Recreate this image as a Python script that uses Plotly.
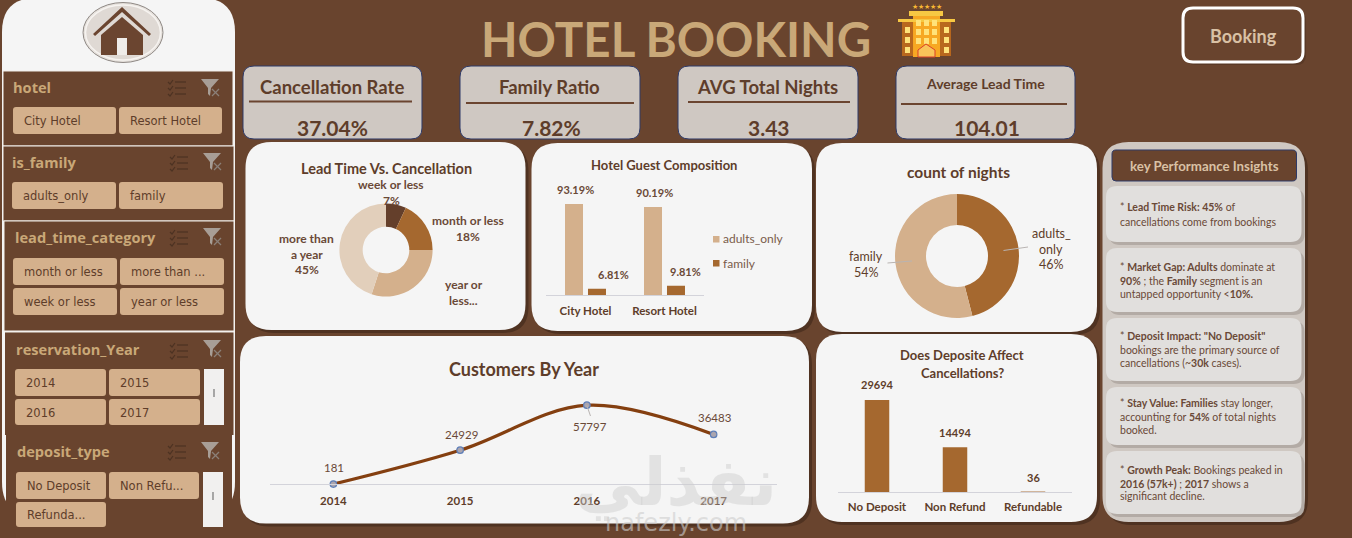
import plotly.graph_objects as go

W = 1352
H = 538

BG = "#69442E"
CARD = "#F5F5F5"
SHADOW = "#4F3221"
KPI = "#CFC8C2"
NAVY = "#2E3A68"
TAN = "#D4B08C"
TITLE_TAN = "#C9A878"
BROWN = "#A5682F"
DARK = "#5E3D2A"
LABEL = "#6A4937"
FONT = "Lato"
SLICER_FONT = "DejaVu Sans"
HEAD_FONT = "Open Sans"

# chart data
lead_labels = ["week or less", "month or less", "year or less", "more than a year"]
lead_values = [7, 18, 30, 45]
lead_colors = ["#643F2B", BROWN, TAN, "#E2CFBB"]

hotel_types = ["City Hotel", "Resort Hotel"]
adults_only = [93.19, 90.19]
family_share = [6.81, 9.81]

night_labels = ["adults_only", "family"]
night_values = [46, 54]

years = [2014, 2015, 2016, 2017]
customers = [181, 24929, 57797, 36483]

deposit_types = ["No Deposit", "Non Refund", "Refundable"]
deposit_counts = [29694, 14494, 36]

kpi_names = ["Cancellation Rate", "Family Ratio", "AVG Total Nights", "Average Lead Time"]
kpi_values = ["37.04%", "7.82%", "3.43", "104.01"]

insights = [
    ["* <b>Lead Time Risk: 45%</b> of", "cancellations come from bookings"],
    ["* <b>Market Gap: Adults</b> dominate at", "<b>90%</b> ; the <b>Family</b> segment is an", "untapped opportunity &lt;<b>10%.</b>"],
    ["* <b>Deposit Impact: \"No Deposit\"</b>", "bookings are the primary source of", "cancellations (~<b>30k</b> cases)."],
    ["* <b>Stay Value: Families</b> stay longer,", "accounting for <b>54%</b> of total nights", "booked."],
    ["* <b>Growth Peak:</b> Bookings peaked in", "<b>2016 (57k+)</b> ; <b>2017</b> shows a", "significant decline."],
]


def px(x):
    return x / W


def py(y):
    return 1 - y / H


def pt(x, y):
    return f"{px(x):.5f},{py(y):.5f}"


def rr_path(x0, y0, x1, y1, r):
    return (f"M {pt(x0 + r, y0)} L {pt(x1 - r, y0)} Q {pt(x1, y0)} {pt(x1, y0 + r)} "
            f"L {pt(x1, y1 - r)} Q {pt(x1, y1)} {pt(x1 - r, y1)} L {pt(x0 + r, y1)} "
            f"Q {pt(x0, y1)} {pt(x0, y1 - r)} L {pt(x0, y0 + r)} Q {pt(x0, y0)} {pt(x0 + r, y0)} Z")


shapes = []
notes = []


def box(x0, y0, x1, y1, r=0, fill=CARD, line=None, lw=1, shadow=None, layer="below"):
    if shadow:
        shapes.append(dict(type="path", xref="paper", yref="paper", layer=layer,
                           path=rr_path(x0 + 3, y0 + 3, x1 + 3, y1 + 3, r),
                           fillcolor=shadow, line=dict(width=0)))
    shapes.append(dict(type="path", xref="paper", yref="paper", layer=layer,
                       path=rr_path(x0, y0, x1, y1, r), fillcolor=fill,
                       line=dict(color=line or fill, width=lw if line else 0)))


def poly(points, fill=None, color=None, lw=1, layer="below", closed=True):
    p = "M " + " L ".join(pt(x, y) for x, y in points) + (" Z" if closed else "")
    shapes.append(dict(type="path", xref="paper", yref="paper", layer=layer, path=p,
                       fillcolor=fill if fill else "rgba(0,0,0,0)",
                       line=dict(color=color or "rgba(0,0,0,0)", width=lw if color else 0)))


def txt(x, y, s, size=12, color=DARK, bold=False, anchor="center", family=FONT):
    notes.append(dict(xref="paper", yref="paper", x=px(x), y=py(y), text=f"<b>{s}</b>" if bold else s,
                      showarrow=False, xanchor=anchor, yanchor="middle", align=anchor,
                      xshift=-2 if anchor == "left" else 0,
                      font=dict(size=size, color=color, family=family)))


def slicer_icons(x1, y1, x2, y2):
    # multi select icon
    for i in range(3):
        yy = y1 + 2 + i * 6
        poly([(x1, yy), (x1 + 2, yy + 2), (x1 + 5, yy - 2)], color="#4C3222", lw=1.2, closed=False)
        poly([(x1 + 7, yy), (x1 + 18, yy)], color="#4C3222", lw=1.2, closed=False)
    # clear filter icon
    poly([(x2, y2), (x2 + 18, y2), (x2 + 10, y2 + 9), (x2 + 9, y2 + 17), (x2 + 7, y2 + 15), (x2 + 7, y2 + 9)], fill="#A89E96")
    poly([(x2 + 11, y2 + 10), (x2 + 18, y2 + 17)], color="#8B8078", lw=1.2, closed=False)
    poly([(x2 + 18, y2 + 10), (x2 + 11, y2 + 17)], color="#8B8078", lw=1.2, closed=False)


def button(x0, y0, x1, y1, s):
    box(x0, y0, x1, y1, 3, fill=TAN)
    txt(x0 + 10.5, (y0 + y1) / 2 + 0.5, s, size=11.5, color=DARK, anchor="left", family=SLICER_FONT)


def scrollbar(x0, y0, x1, y1, hy0, hy1):
    box(x0, y0, x1, y1, 0, fill="#F1F0EF")
    poly([((x0 + x1) / 2, hy0), ((x0 + x1) / 2, hy1)], color="#8E8E8E", lw=1.5, closed=False)


# sidebar
box(2, -2, 235, 516, 34, fill=CARD)
box(28, 537, 208, 550, 3, fill=CARD)

# home logo
shapes.append(dict(type="circle", xref="paper", yref="paper", layer="below", x0=px(83), x1=px(163), y0=py(2.5), y1=py(62.5),
                   fillcolor="#E6E1DC", line=dict(color="#8F8985", width=1)))
shapes.append(dict(type="circle", xref="paper", yref="paper", layer="below", x0=px(85.5), x1=px(160.5), y0=py(5), y1=py(60),
                   fillcolor="#DFD9D4", line=dict(color="#F6F3F0", width=1.5)))
poly([(93, 34), (122, 7), (151, 34), (149, 36), (122, 12), (95, 36)], fill="#6B4530")
poly([(122, 17), (143, 35), (143, 55), (101, 55), (101, 35)], fill="#6B4530")
box(117, 38, 127, 55, 0, fill="#EFECE9")

# slicer panels
box(3, 71, 233, 146, 0, fill=BG, line="#F3F0EC", lw=1)
box(3, 146, 234, 221, 0, fill=BG, line="#F3F0EC", lw=1)
box(4, 221, 234, 331, 0, fill=BG, line="#F3F0EC", lw=1)
box(5, 332, 234, 435, 0, fill=BG)
poly([(5, 332), (234, 332)], color="#F3F0EC", lw=1, closed=False)
poly([(234, 332), (234, 435)], color="#F3F0EC", lw=1, closed=False)
box(6, 435, 232, 540, 0, fill=BG)

txt(13, 87, "hotel", 14.6, TITLE_TAN, True, "left", HEAD_FONT)
slicer_icons(168, 80, 201, 79)
button(13, 107, 116, 134, "City Hotel")
button(119, 107, 222, 134, "Resort Hotel")

txt(12, 162, "is_family", 14.6, TITLE_TAN, True, "left", HEAD_FONT)
slicer_icons(170, 155, 203, 153)
button(12, 182, 116, 209, "adults_only")
button(119, 182, 223, 209, "family")

txt(14.5, 237, "lead_time_category", 14.6, TITLE_TAN, True, "left", HEAD_FONT)
slicer_icons(170, 230, 203, 228)
button(13, 258, 117, 285, "month or less")
button(120, 258, 224, 285, "more than ...")
button(13, 288, 117, 315, "week or less")
button(120, 288, 224, 315, "year or less")

txt(15.5, 349, "reservation_Year", 14.6, TITLE_TAN, True, "left", HEAD_FONT)
slicer_icons(170, 343, 203, 340)
button(15, 369, 106, 396, "2014")
button(109, 369, 200, 396, "2015")
button(15, 399, 106, 425, "2016")
button(109, 399, 200, 425, "2017")
scrollbar(204, 369, 224, 425, 389, 397)

txt(16.5, 451, "deposit_type", 14.6, TITLE_TAN, True, "left", HEAD_FONT)
slicer_icons(168, 444, 201, 442)
button(16, 472, 106, 499, "No Deposit")
button(109, 472, 199, 499, "Non Refu...")
button(16, 502, 106, 527, "Refunda...")
scrollbar(203, 472, 223, 527, 492, 500)

# header
txt(676, 38, "HOTEL BOOKING", 47.5, TITLE_TAN, True)
box(1183, 8, 1303, 62, 10, fill=BG, line="#FFFFFF", lw=3, shadow="#5A3A27")
txt(1243, 36, "Booking", 18, "#D9C1A5", True)

# hotel picture
box(909, 11, 943, 16, 0, fill="#F7C843")
box(913, 16, 940, 57, 0, fill="#F7A823")
box(902, 22, 913, 56, 0, fill="#B8681E")
box(940, 22, 951, 56, 0, fill="#B8681E")
box(898, 19, 955, 22, 0, fill="#F7C843")
for wx in [905, 944]:
    for wy in [27, 37, 47]:
        box(wx, wy, wx + 5, wy + 6, 0, fill="#FFE27A")
for wx in [916, 924, 932]:
    for wy in [20, 29, 38]:
        box(wx, wy, wx + 5, wy + 6, 0, fill="#FFE27A")
poly([(918, 57), (918, 50), (926, 44), (935, 50), (935, 57)], fill="#F9C45A", color="#D9402A", lw=1)
txt(926.5, 6, "★★★★★", 7, "#F7B733")

# KPI cards
kpi_x = [(243, 422), (460, 640), (678, 858), (896, 1075)]
kpi_center = [332, 549.5, 767.5, 985]
kpi_line = [(249, 412, 101.5), (466, 634, 103), (688, 850, 102), (901, 1067, 104)]
kpi_title_y = [87, 87, 87, 83.5]
kpi_size = [18.5, 18.5, 18.5, 14]
for i, name in enumerate(kpi_names):
    box(kpi_x[i][0], 66, kpi_x[i][1], 139, 11, fill=KPI, line=NAVY, lw=1)
    poly([(kpi_line[i][0], kpi_line[i][2]), (kpi_line[i][1], kpi_line[i][2])], color="#6B4530", lw=2, closed=False)
    txt(kpi_center[i], kpi_title_y[i], name, kpi_size[i], DARK, True)
    txt(kpi_center[i] + (1.5 if i else 0), 127, kpi_values[i], 21, DARK, True)

# chart cards
box(245.5, 142, 525.5, 330, 26, shadow=SHADOW)
box(531.5, 143, 812, 331, 26, shadow=SHADOW)
box(816, 143, 1097, 332, 26, shadow=SHADOW)
box(240, 336, 809, 523.5, 26, shadow=SHADOW)
box(816, 334, 1097, 522, 26, shadow=SHADOW)

# insights panel
box(1102.5, 142, 1305, 522, 26, fill=KPI, shadow=SHADOW)
box(1112, 150, 1296.5, 181, 4, fill=BG, line=NAVY, lw=1)
txt(1204, 165.5, "key Performance Insights", 13.3, "#D9C1A5", True)
insight_boxes = [(186, 242), (248, 312), (318, 381), (387, 445), (451, 514)]
insight_lines = [[207, 221.5], [266.5, 280.5, 293.5], [335.5, 349.5, 362.5], [402.5, 416.5, 429.5], [469.5, 483.5, 496.5]]
for (y0, y1), lines, ys in zip(insight_boxes, insights, insight_lines):
    box(1106, y0, 1301.5, y1, 11, fill="#E1DFDD", shadow="#B3ABA5")
    for s, yy in zip(lines, ys):
        txt(1119.5, yy, s, 10.5, LABEL, False, "left")

fig = go.Figure()

# lead time donut
fig.add_trace(go.Pie(labels=lead_labels, values=lead_values, hole=0.5, sort=False, direction="clockwise",
                     marker=dict(colors=lead_colors, line=dict(width=0)), textinfo="none", showlegend=False,
                     domain=dict(x=[px(386 - 46.6), px(386 + 46.6)], y=[py(250 + 46.6), py(250 - 46.6)])))
txt(386, 168, "Lead Time Vs. Cancellation", 14.5, DARK, True)
txt(391, 184, "week or less", 12, LABEL, True)
txt(391.5, 200, f"{lead_values[0]}%", 12, LABEL, True)
txt(468, 220, "month or less", 12, LABEL, True)
txt(468, 236, f"{lead_values[1]}%", 12, LABEL, True)
txt(306.5, 238, "more than", 12, LABEL, True)
txt(306.5, 254, "a year", 12, LABEL, True)
txt(306.5, 269, f"{lead_values[3]}%", 12, LABEL, True)
txt(463.5, 284, "year or", 12, LABEL, True)
txt(463.5, 300, "less...", 12, LABEL, True)

# guest composition bars
fig.add_trace(go.Bar(x=hotel_types, y=adults_only, name="adults_only", marker=dict(color=TAN, line=dict(width=0)),
                     xaxis="x2", yaxis="y2", showlegend=False))
fig.add_trace(go.Bar(x=hotel_types, y=family_share, name="family", marker=dict(color=BROWN, line=dict(width=0)),
                     xaxis="x2", yaxis="y2", showlegend=False))
txt(664, 164.5, "Hotel Guest Composition", 13, DARK, True)
guest_xshift = [[-10, 28], [-10, 21]]
for i, name in enumerate(hotel_types):
    for j, series in enumerate([adults_only, family_share]):
        notes.append(dict(xref="x2", yref="y2", x=name, y=series[i], text=f"<b>{series[i]:.2f}%</b>", showarrow=False,
                          xshift=guest_xshift[i][j], yshift=14, xanchor="center", yanchor="middle",
                          font=dict(size=11, color=LABEL, family=FONT)))
box(713, 236, 719.5, 242.5, 0, fill=TAN)
box(713, 260, 719.5, 266.5, 0, fill=BROWN)
txt(723, 239, "adults_only", 12, "#7A5C4A", False, "left")
txt(723, 263, "family", 12, "#7A5C4A", False, "left")

# nights donut
fig.add_trace(go.Pie(labels=night_labels, values=night_values, hole=0.5, sort=False, direction="clockwise",
                     marker=dict(colors=[BROWN, TAN], line=dict(width=0)), textinfo="none", showlegend=False,
                     domain=dict(x=[px(957 - 62), px(957 + 62)], y=[py(256 + 62), py(256 - 62)])))
txt(958.5, 172, "count of nights", 15.5, DARK, True)
txt(866, 256, "family", 12.5, DARK)
txt(866, 272, f"{night_values[1]}%", 12.5, DARK)
txt(1051, 233, "adults_", 12.5, DARK)
txt(1051, 249, "only", 12.5, DARK)
txt(1051, 264, f"{night_values[0]}%", 12.5, DARK)
poly([(887.5, 263), (912, 261)], color="#B9B4B2", lw=1, layer="above", closed=False)
poly([(1028, 247), (1003.5, 250.5)], color="#B9B4B2", lw=1, layer="above", closed=False)

# customers line
fig.add_trace(go.Scatter(x=years, y=customers, mode="lines+markers", cliponaxis=False, showlegend=False,
                         line=dict(color="#843F10", width=3.2, shape="spline", smoothing=1),
                         marker=dict(size=6.5, color="#ABA5AE", line=dict(color="#5F7FB8", width=1.2))))
txt(524, 369, "Customers By Year", 18, DARK, True)
line_shift = [(1, 17), (1, 16), (3, -21), (1, 17)]
for year, val, (dx, dy) in zip(years, customers, line_shift):
    notes.append(dict(xref="x", yref="y", x=year, y=val, text=str(val), showarrow=False, xshift=dx, yshift=dy,
                      xanchor="center", yanchor="middle", font=dict(size=11.5, color=LABEL, family=FONT)))
poly([(586.7, 405), (590.5, 416)], color="#B9B4B2", lw=1, layer="above", closed=False)

# deposit bars, the last one is only a sliver so it gets an outline
fig.add_trace(go.Bar(x=deposit_types, y=deposit_counts,
                     marker=dict(color=BROWN, line=dict(color=BROWN, width=[0, 0, 1])), width=0.314,
                     xaxis="x3", yaxis="y3", showlegend=False))
txt(962, 355, "Does Deposite Affect", 13, DARK, True)
txt(962, 373, "Cancellations?", 13, DARK, True)
for name, val in zip(deposit_types, deposit_counts):
    notes.append(dict(xref="x3", yref="y3", x=name, y=val, text=f"<b>{val}</b>", showarrow=False, yshift=15,
                      xanchor="center", yanchor="middle", font=dict(size=11, color=DARK, family=FONT)))
box(838, 512.5, 1072, 517, 0, fill=CARD, layer="above")

# watermark
txt(676, 482, "نفذلي", 66, "rgba(205,205,205,0.45)", True, family="DejaVu Sans")
txt(676, 523, "nafezly.com", 24, "rgba(205,205,205,0.6)", False, family="DejaVu Sans")

axis_common = dict(showgrid=False, zeroline=False, ticks="", showline=True,
                   linecolor="#D3D3DA", linewidth=1, fixedrange=True)
value_common = dict(visible=False, showgrid=False, zeroline=False, fixedrange=True)
tick_font = dict(size=11.5, color=DARK, family=FONT, weight="bold")

fig.update_layout(
    width=W,
    height=H,
    margin=dict(l=0, r=0, t=0, b=0),
    paper_bgcolor=BG,
    plot_bgcolor="rgba(0,0,0,0)",
    showlegend=False,
    barmode="group",
    bargap=0.418,
    bargroupgap=0.217,
    shapes=shapes,
    annotations=notes,
    font=dict(family=FONT, color=DARK),
    xaxis=dict(domain=[px(270), px(777)], anchor="y", range=[2013.5, 2017.5], tickvals=years, tickformat="d",
               ticklabelstandoff=6, tickfont=tick_font, **axis_common),
    yaxis=dict(domain=[py(484.3), py(380.3)], range=[0, 76000], anchor="x", **value_common),
    xaxis2=dict(domain=[px(546), px(704)], anchor="y2", type="category", ticklabelstandoff=5,
                tickfont=tick_font, **axis_common),
    yaxis2=dict(domain=[py(295.3), py(197.3)], range=[0, 100], anchor="x2", **value_common),
    xaxis3=dict(domain=[px(838), px(1072)], anchor="y3", type="category", ticklabelstandoff=4,
                tickfont=tick_font, **axis_common),
    yaxis3=dict(domain=[py(492.3), py(392.8)], range=[0, 32000], anchor="x3", **value_common),
)

fig.write_html("out.html", config=dict(displayModeBar=False),
               post_script="document.body.style.margin='0';document.body.style.overflow='hidden';")
